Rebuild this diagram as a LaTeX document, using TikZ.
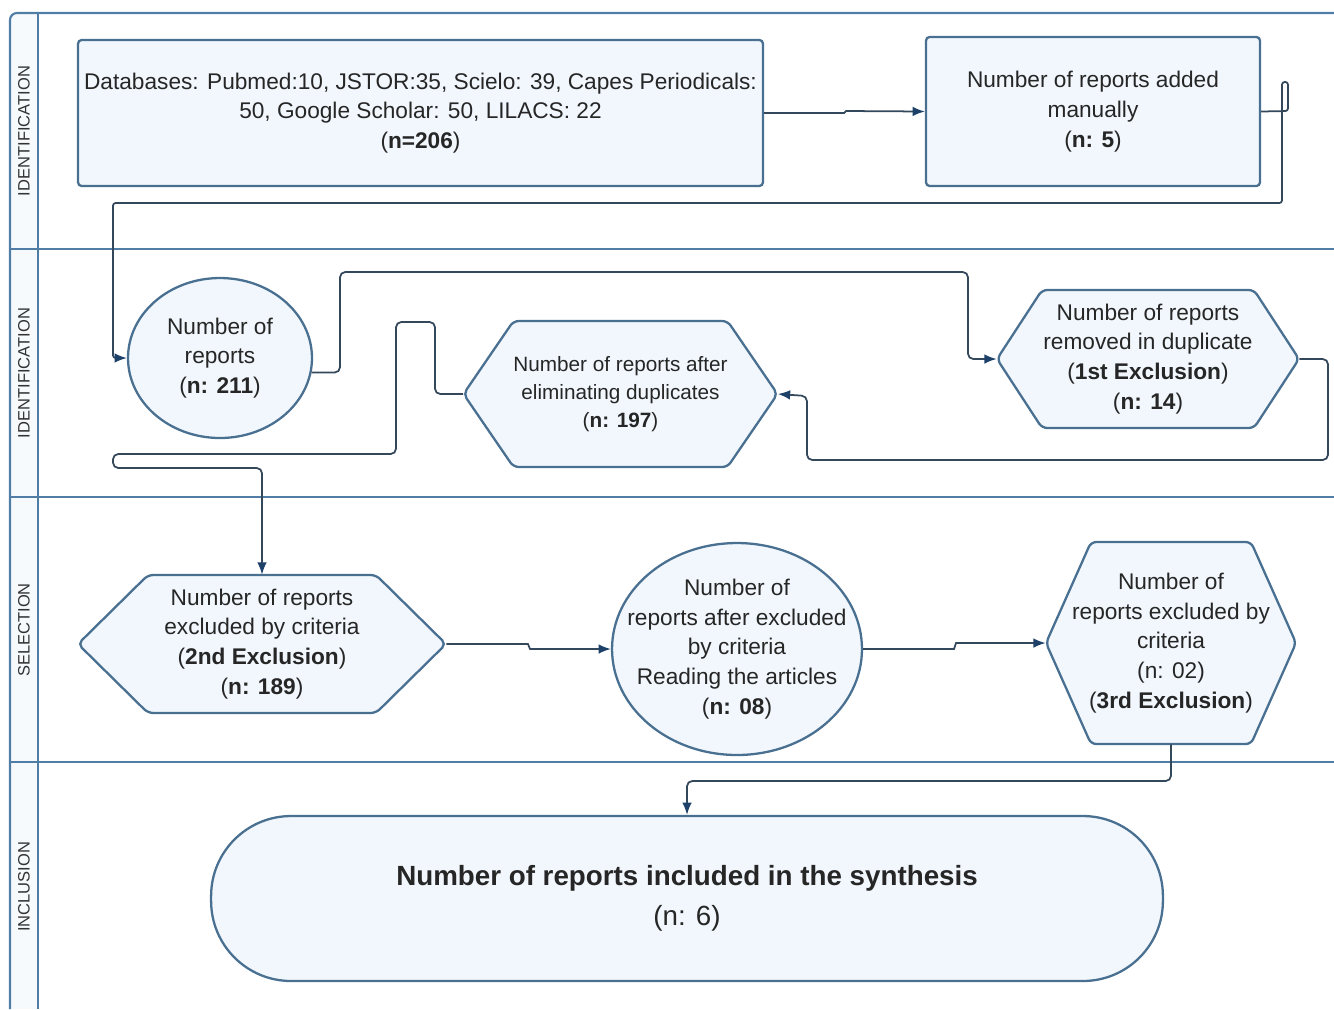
\documentclass[tikz,border=0pt]{standalone}
\usepackage{fontspec}
\setmainfont{Liberation Sans}
\usetikzlibrary{shapes.geometric,arrows.meta,positioning,calc}

\definecolor{boxfill}{RGB}{241,247,252}
\definecolor{boxline}{RGB}{74,112,145}
\definecolor{wirecol}{RGB}{52,72,92}
\definecolor{tipcol}{RGB}{30,65,105}
\definecolor{laneline}{RGB}{80,125,165}
\definecolor{lanefill}{RGB}{246,250,253}

\tikzset{
  base/.style={draw=boxline, fill=boxfill, line width=1.3pt, align=center,
    text=black!85, font=\fontsize{12.9}{17}\selectfont, inner sep=0pt},
  box/.style={base, rectangle, rounded corners=2pt},
  oval/.style={base, ellipse},
  hexcore/.style={rectangle, align=center, text=black!85,
    font=\fontsize{12.9}{17}\selectfont, inner sep=0pt},
  wire/.style={draw=wirecol, line width=1pt, rounded corners=3pt,
    -{Latex[length=7pt,width=5.5pt,color=tipcol]}},
  lane/.style={draw=laneline, line width=1.2pt},
  lanetext/.style={rotate=90, text=black!80, font=\fontsize{9.4}{11}\selectfont}
}

% hexagon: [options], name, cx, cy, half width, half height, inset, text
\newcommand{\hexnode}[8][]{%
  \path[draw=boxline, fill=boxfill, line width=1.3pt, rounded corners=3pt]
    (#3,#4) ++(-#5,0) -- ++(#7,-#6) -- ++({2*#5-2*#7},0) -- ++(#7,#6)
    -- ++(-#7,#6) -- ++({-2*#5+2*#7},0) -- cycle;
  \node[hexcore, minimum width={2*#5*0.02cm}, minimum height={2*#6*0.02cm}, #1]
    (#2) at (#3,#4) {#8};
}

\begin{document}
\begin{tikzpicture}[x=0.02cm, y=-0.02cm]
  \useasboundingbox (0,0) rectangle (1334,1009);

  % lanes
  \fill[lanefill] (10,13) rectangle (38,1009);
  \draw[lane, rounded corners=4pt] (1334,13) -- (10,13) -- (10,1009);
  \draw[lane] (38,13) -- (38,1009);
  \foreach \y in {249,497,762}
    \draw[lane] (10,\y) -- (1334,\y);
  \node[lanetext] (lane1) at (24,131) {IDENTIFICATION};
  \node[lanetext] (lane2) at (24,373) {IDENTIFICATION};
  \node[lanetext] (lane3) at (24,630) {SELECTION};
  \node[lanetext] (lane4) at (24,887) {INCLUSION};

  % boxes
  \node[box, minimum width=13.7cm, minimum height=2.92cm] (db) at (420.5,113)
    {Databases: Pubmed:10, JSTOR:35, Scielo: 39, Capes Periodicals:\\
     50, Google Scholar: 50, LILACS: 22\\ (\textbf{n=206})};
  \node[box, minimum width=6.68cm, minimum height=2.98cm] (manual) at (1093,111.5)
    {Number of reports added\\ manually\\ (\textbf{n: 5})};
  \node[oval, minimum width=3.68cm, minimum height=3.2cm] (total) at (220,358)
    {Number of\\ reports\\ (\textbf{n: 211})};
  \hexnode{dup}{1148}{359}{151}{69}{45}
    {Number of reports\\ removed in duplicate\\ (\textbf{1st Exclusion})\\ (\textbf{n: 14})}
  \hexnode[font=\fontsize{11.8}{15.9}\selectfont]{nodup}{620.5}{394}{157}{73}{50}
    {Number of reports after\\ eliminating duplicates\\ (\textbf{n: 197})}
  \hexnode{excl2}{262}{644}{184}{69}{70}
    {Number of reports\\ excluded by criteria\\ (\textbf{2nd Exclusion})\\ (\textbf{n: 189})}
  \node[oval, inner xsep=-0.45cm, minimum width=5cm, minimum height=4.24cm] (read) at (737,649)
    {Number of\\ reports after excluded\\ by criteria\\ Reading the articles\\ (\textbf{n: 08})};
  \hexnode{excl3}{1171}{643}{125}{101}{45}
    {Number of\\ reports excluded by\\ criteria\\ (n: 02)\\ (\textbf{3rd Exclusion})}
  \node[box, rounded corners=1.6cm, minimum width=19.04cm, minimum height=3.3cm,
    font=\fontsize{15.8}{23}\selectfont] (final) at (687,898.5)
    {\textbf{Number of reports included in the synthesis}\\ (n: 6)};

  % connectors
  \draw[wire, sharp corners] (db.east) -- (844,113) -- (846,111) -- (manual.west);
  \draw[wire, rounded corners=1.5pt] (manual.east) -- (1288,111) -- (1288,82)
    -- (1282,82) -- (1282,203) -- (113,203) -- (113,358) -- (total.west);
  \draw[wire] (total.-9) -| (340,272) -| (968,359) -- (dup.west);
  \draw[wire] (dup.east) -| (1328,460) -| (807,396) -- (nodup.east);
  \draw[wire] (nodup.west) -- (435,394) -- (435,322) -- (396,322) -- (396,454)
    -- (113,454) -- (113,468) -- (262,468) -- (excl2.north);
  \draw[wire, sharp corners] (excl2.east) -- (528,644) -- (530,649) -- (read.west);
  \draw[wire, sharp corners] (read.east) -- (954,649) -- (956,643) -- (excl3.west);
  \draw[wire] (excl3.south) |- (687,781) -- (final.north);
\end{tikzpicture}
\end{document}
